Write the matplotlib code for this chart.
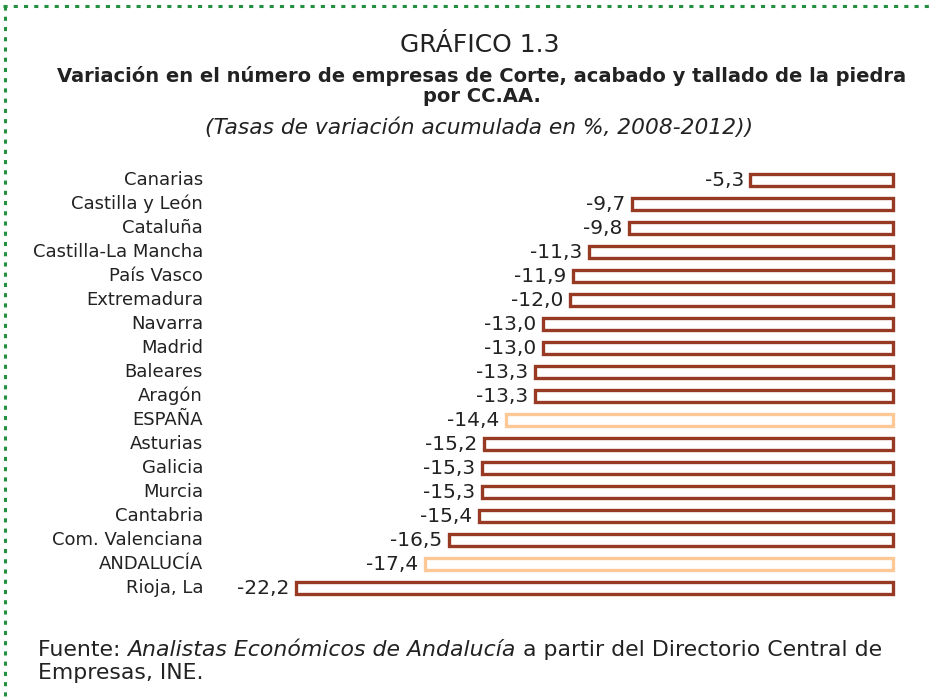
import matplotlib.pyplot as plt
from matplotlib.lines import Line2D

regions = ["Canarias", "Castilla y León", "Cataluña", "Castilla-La Mancha", "País Vasco",
           "Extremadura", "Navarra", "Madrid", "Baleares", "Aragón", "ESPAÑA", "Asturias",
           "Galicia", "Murcia", "Cantabria", "Com. Valenciana", "ANDALUCÍA", "Rioja, La"]
values = [-5.3, -9.7, -9.8, -11.3, -11.9, -12.0, -13.0, -13.0, -13.3, -13.3, -14.4,
          -15.2, -15.3, -15.3, -15.4, -16.5, -17.4, -22.2]
highlight = ["ESPAÑA", "ANDALUCÍA"]

W, H = 934, 699
txt = "#222222"
dark = "#983A23"
light = "#FDC796"
green = "#24903F"

fig = plt.figure(figsize=(W / 100, H / 100), dpi=100)
plt.rcParams["font.family"] = "DejaVu Sans"

# axes in pixel coordinates: 0 at x=893, -22.2 at x=296, rows 24 px apart
ax = fig.add_axes([296 / W, 1 - 600 / H, (893 - 296) / W, 432 / H])
ax.set_xlim(-22.2, 0)
ax.set_ylim(len(regions) - 0.5, -0.5)
ax.axis("off")

for i, (reg, v) in enumerate(zip(regions, values)):
    col = light if reg in highlight else dark
    ax.barh(i, -v, left=v, height=0.48, facecolor="white", edgecolor=col,
            linewidth=2.4, clip_on=False)
    ax.text(v - 0.25, i, f"{v:.1f}".replace(".", ","), ha="right", va="center",
            fontsize=14.5, color=txt)
    # region names right-aligned at x=203 px
    ax.annotate(reg, xy=(0, i), xycoords=("figure pixels", "data"), xytext=(203, 0),
                textcoords=("figure pixels", "offset points"), ha="right", va="center",
                fontsize=13, color=txt, annotation_clip=False)


def fy(py):
    return 1 - py / H


# titles
fig.text(480 / W, fy(45), "GRÁFICO 1.3", ha="center", va="center", fontsize=18, color=txt)
fig.text(482 / W, fy(76), "Variación en el número de empresas de Corte, acabado y tallado de la piedra",
         ha="center", va="center", fontsize=14, fontweight="bold", color=txt)
fig.text(482 / W, fy(96), "por CC.AA.", ha="center", va="center",
         fontsize=14, fontweight="bold", color=txt)
fig.text(479 / W, fy(128), "(Tasas de variación acumulada en %, 2008-2012))",
         ha="center", va="center", fontsize=15.7, style="italic", color=txt)

# footer, built from runs of normal and italic text
fs = 15.8
x = 38
for part, style in [("Fuente: ", "normal"), ("Analistas Económicos de Andalucía", "italic"),
                    (" a partir del Directorio Central de", "normal")]:
    t = fig.text(x / W, fy(650), part, ha="left", va="center", fontsize=fs, style=style, color=txt)
    fig.canvas.draw()
    x = t.get_window_extent().x1
fig.text(38 / W, fy(673), "Empresas, INE.", ha="left", va="center", fontsize=fs, color=txt)

# dotted green frame (top and left edges)
dots = (0, (1.35, 2.0))
fig.add_artist(Line2D([3 / W, 1], [fy(6), fy(6)], transform=fig.transFigure,
                      color=green, linewidth=2.2, linestyle=dots))
fig.add_artist(Line2D([4.5 / W, 4.5 / W], [fy(6), 0], transform=fig.transFigure,
                      color=green, linewidth=2.2, linestyle=dots))

fig.savefig("out.png", dpi=100)
